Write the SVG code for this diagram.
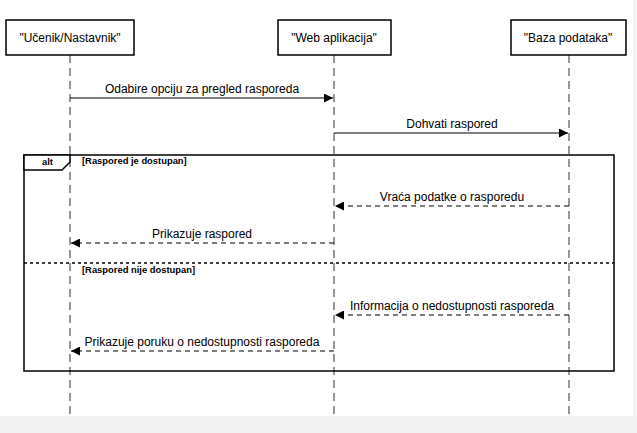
<svg xmlns="http://www.w3.org/2000/svg" width="637" height="433" viewBox="0 0 637 433">
<defs>
<style>
.box{fill:#fff;stroke:#000;stroke-width:1.5}
.life{stroke:#555;stroke-width:1.2;stroke-dasharray:8,5;fill:none}
.msg{stroke:#000;stroke-width:1.2;fill:none}
.ret{stroke:#000;stroke-width:1.2;stroke-dasharray:5,4;fill:none}
.lbl{font-family:"Liberation Sans",Arial,sans-serif;font-size:12px;fill:#000;text-anchor:middle}
.guard{font-family:"Liberation Sans",Arial,sans-serif;font-size:9.4px;font-weight:bold;fill:#000}
</style>
<marker id="ah" viewBox="0 0 10 10" refX="10" refY="5" markerWidth="10" markerHeight="9" markerUnits="userSpaceOnUse" orient="auto">
<path d="M0,0 L10,5 L0,10 z" fill="#000"/>
</marker>
</defs>
<rect x="0" y="0" width="637" height="433" fill="#f3f3f3"/>
<rect x="0" y="0" width="633" height="416" fill="#fff"/>
<g id="lifelines">
<line class="life" x1="70" y1="55" x2="70" y2="416"/>
<line class="life" x1="334" y1="55" x2="334" y2="416"/>
<line class="life" x1="569" y1="55" x2="569" y2="416"/>
</g>
<g id="ucenik">
<rect class="box" x="6" y="20" width="128" height="35"/>
<text class="lbl" x="70" y="42">"Učenik/Nastavnik"</text>
</g>
<g id="web">
<rect class="box" x="278" y="20" width="113" height="35"/>
<text class="lbl" x="334" y="42">"Web aplikacija"</text>
</g>
<g id="baza">
<rect class="box" x="511" y="20" width="115" height="35"/>
<text class="lbl" x="568" y="42">"Baza podataka"</text>
</g>
<g id="alt">
<rect x="24" y="155" width="590" height="216" fill="none" stroke="#000" stroke-width="1.5"/>
<path d="M24,155 H70 V162 L62,170 H24 Z" fill="#fff" stroke="#000" stroke-width="1.5"/>
<text class="guard" x="42" y="165">alt</text>
<text class="guard" x="82" y="164">[Raspored je dostupan]</text>
<line x1="24" y1="263" x2="614" y2="263" stroke="#000" stroke-width="1.5" stroke-dasharray="3,3"/>
<text class="guard" x="82" y="273">[Raspored nije dostupan]</text>
</g>
<g id="connectors">
<line class="msg" x1="70" y1="98" x2="333" y2="98" marker-end="url(#ah)"/>
<text class="lbl" x="202" y="93">Odabire opciju za pregled rasporeda</text>
<line class="msg" x1="334" y1="133" x2="568" y2="133" marker-end="url(#ah)"/>
<text class="lbl" x="452" y="128">Dohvati raspored</text>
<line class="ret" x1="569" y1="206" x2="335" y2="206" marker-end="url(#ah)"/>
<text class="lbl" x="452" y="201">Vraća podatke o rasporedu</text>
<line class="ret" x1="334" y1="243" x2="71" y2="243" marker-end="url(#ah)"/>
<text class="lbl" x="202" y="238">Prikazuje raspored</text>
<line class="ret" x1="569" y1="315" x2="335" y2="315" marker-end="url(#ah)"/>
<text class="lbl" x="452" y="310">Informacija o nedostupnosti rasporeda</text>
<line class="ret" x1="334" y1="351" x2="71" y2="351" marker-end="url(#ah)"/>
<text class="lbl" x="202" y="346">Prikazuje poruku o nedostupnosti rasporeda</text>
</g>
</svg>
